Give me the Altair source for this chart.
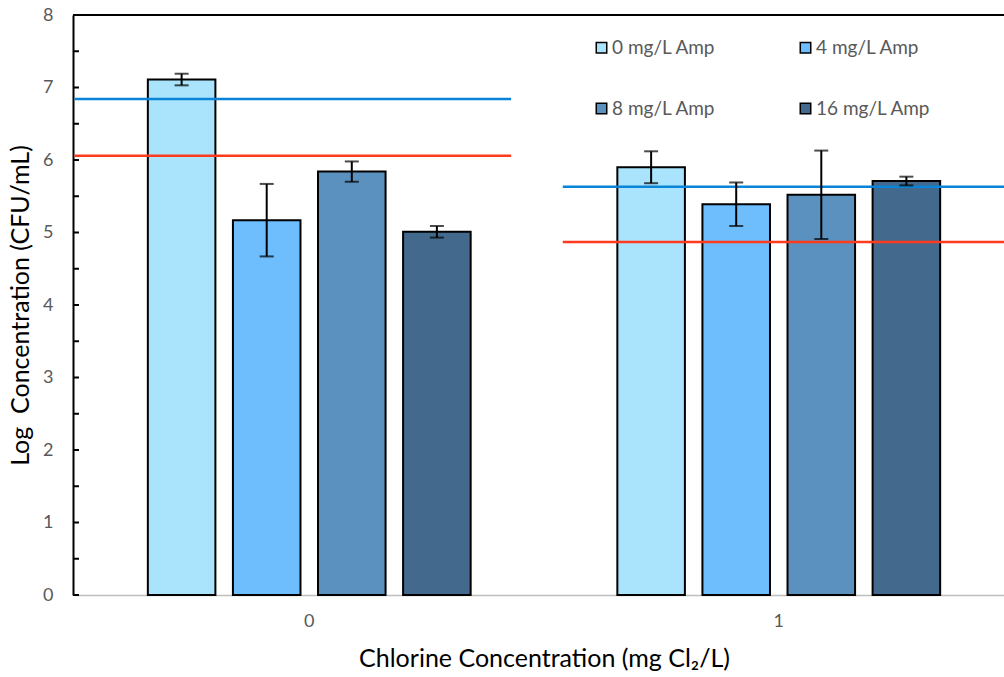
import altair as alt
import pandas as pd

# ---- data ----
chlorine = ["0", "1"]
amp_levels = ["0 mg/L Amp", "4 mg/L Amp", "8 mg/L Amp", "16 mg/L Amp"]
mean_cl0 = [7.11, 5.17, 5.84, 5.01]
mean_cl1 = [5.90, 5.39, 5.52, 5.71]
err_cl0 = [0.08, 0.50, 0.14, 0.08]
err_cl1 = [0.22, 0.30, 0.61, 0.06]
blue_ref = [6.84, 5.63]
red_ref = [6.06, 4.87]
y_major = [0, 1, 2, 3, 4, 5, 6, 7, 8]
y_ticks = [0, 0.5, 1, 1.5, 2, 2.5, 3, 3.5, 4, 4.5, 5, 5.5, 6, 6.5, 7, 7.5, 8]
bar_colors = ["#A9E4FC", "#6EBEFD", "#5B91BF", "#436A8D"]

rows = []
for c, means, errs in [(chlorine[0], mean_cl0, err_cl0), (chlorine[1], mean_cl1, err_cl1)]:
    for a, m, e in zip(amp_levels, means, errs):
        rows.append({"chlorine": c, "amp": a, "mean": m, "lo": m - e, "hi": m + e})
bars_df = pd.DataFrame(rows)
ref_df = pd.DataFrame({"chlorine": chlorine, "blue": blue_ref, "red": red_ref})
ticks_df = pd.DataFrame({"v": y_ticks})

FONT = "Lato"
Y_TITLE = "Log\u00a0 Concentration (CFU/mL)"
X_TITLE = "Chlorine Concentration (mg Cl\u2082/L)"

x_scale = alt.Scale(domain=chlorine, range=[1.5, 940.5], paddingInner=0, paddingOuter=0)
x_axis = alt.Axis(
    title=X_TITLE, labelAngle=0, ticks=False, tickSize=0, domainColor="#BFBFBF",
    domainWidth=1.5, labelColor="#595959", labelFontSize=18, labelFont=FONT,
    labelPadding=17, titleFont=FONT, titleFontSize=25, titleFontWeight="normal",
    titleColor="black", titlePadding=16, grid=False,
)
y_scale = alt.Scale(domain=[0, 8], nice=False, zero=True)
y_axis = alt.Axis(
    title=Y_TITLE, values=y_major, ticks=False, tickSize=0, domainColor="black",
    domainWidth=2, labelColor="#595959", labelFontSize=18, labelFont=FONT,
    labelPadding=20, titleFont=FONT, titleFontSize=25, titleFontWeight="normal",
    titleColor="black", titlePadding=9, grid=False,
)


def X(field="chlorine", **kw):
    return alt.X(f"{field}:N", sort=chlorine, scale=x_scale, axis=x_axis, title=X_TITLE, **kw)


def Y(field):
    return alt.Y(f"{field}:Q", scale=y_scale, axis=y_axis, title=Y_TITLE)


xoff = alt.XOffset("amp:N", sort=amp_levels,
                   scale=alt.Scale(domain=amp_levels, paddingInner=0.206, paddingOuter=0.862))

bars = alt.Chart(bars_df).mark_bar(stroke="black", strokeWidth=2).encode(
    x=X(),
    xOffset=xoff,
    y=Y("mean"),
    color=alt.Color(
        "amp:N", sort=amp_levels,
        scale=alt.Scale(domain=amp_levels, range=bar_colors),
        legend=alt.Legend(
            title=None, orient="none", legendX=519, legendY=23, columns=2,
            direction="horizontal",
            columnPadding=80, rowPadding=41, symbolType="square", symbolSize=110,
            symbolStrokeColor="black", symbolStrokeWidth=1.5, labelFontSize=19,
            labelFont=FONT, labelColor="#595959", labelOffset=1, padding=0,
        ),
    ),
)

err_rule = alt.Chart(bars_df).mark_rule(color="black", strokeWidth=2).encode(
    x=X(), xOffset=xoff, y=Y("lo"), y2="hi"
)
cap_lo = alt.Chart(bars_df).mark_tick(color="black", thickness=2, size=14).encode(
    x=X(), xOffset=xoff, y=Y("lo")
)
cap_hi = alt.Chart(bars_df).mark_tick(color="black", thickness=2, size=14).encode(
    x=X(), xOffset=xoff, y=Y("hi")
)


def ref_lines(group, start, end):
    d = ref_df[ref_df["chlorine"] == group]
    blue = alt.Chart(d).mark_rule(color="#0A84D6", strokeWidth=2.5).encode(
        x=X(bandPosition=start), x2=alt.X2("chlorine", bandPosition=end), y=Y("blue")
    )
    red = alt.Chart(d).mark_rule(color="#FF3B1F", strokeWidth=2.5).encode(
        x=X(bandPosition=start), x2=alt.X2("chlorine", bandPosition=end), y=Y("red")
    )
    return [blue, red]


inner_ticks = alt.Chart(ticks_df).mark_rule(color="black", strokeWidth=2).encode(
    y=Y("v"), x=alt.value(0), x2=alt.value(6)
)
top_border = alt.Chart(ticks_df.head(1)).mark_rule(color="black", strokeWidth=2).encode(
    y=alt.value(0), x=alt.value(0), x2=alt.value(931)
)

chart = alt.layer(
    bars,
    *ref_lines("0", 0.0, 0.93),
    *ref_lines("1", 0.04, 1.0),
    err_rule, cap_lo, cap_hi,
    inner_ticks, top_border,
).properties(
    width=931, height=580,
    autosize=alt.AutoSizeParams(type="none"),
    padding={"left": 73, "top": 15, "right": 0, "bottom": 82},
).configure_view(stroke=None).configure(background="white")

chart.save("out.html", embed_options={"renderer": "svg", "actions": False})
